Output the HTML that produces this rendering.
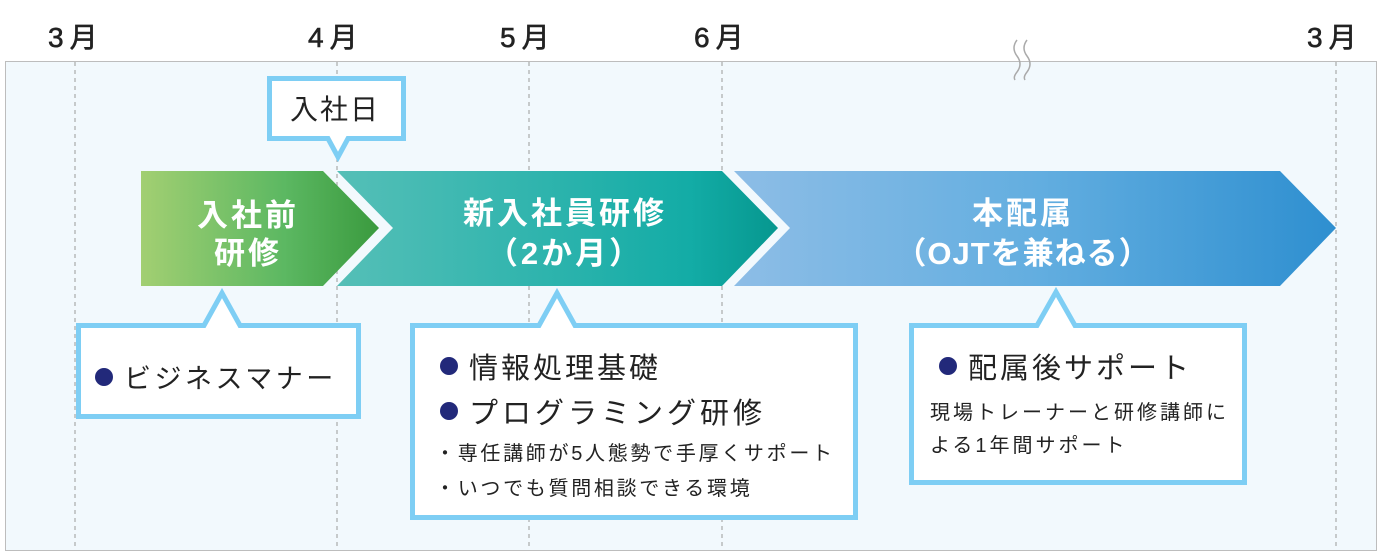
<!DOCTYPE html>
<html><head><meta charset="utf-8"><style>
html,body{margin:0;padding:0;background:#fff;}
svg{display:block;font-family:"Liberation Sans","Noto Sans CJK JP",sans-serif;}
</style></head><body>
<svg width="1383" height="555" viewBox="0 0 1383 555" xmlns="http://www.w3.org/2000/svg">
<defs>
<linearGradient id="g1" x1="0" x2="1"><stop offset="0" stop-color="#a2cf72"/><stop offset="0.6" stop-color="#5cb862"/><stop offset="1" stop-color="#3a9a3e"/></linearGradient>
<linearGradient id="g2" x1="0" x2="1"><stop offset="0" stop-color="#55bfb7"/><stop offset="0.8" stop-color="#13aca6"/><stop offset="1" stop-color="#06978f"/></linearGradient>
<linearGradient id="g3" x1="0" x2="1"><stop offset="0" stop-color="#8dbde6"/><stop offset="0.5" stop-color="#63aee0"/><stop offset="1" stop-color="#2e8fd0"/></linearGradient>
</defs>
<rect x="5.5" y="61.5" width="1371" height="489" fill="#f2f9fd" stroke="#bdbdbd"/>
<g stroke="#aaa" stroke-width="1.2" stroke-dasharray="4,4">
<line x1="75" y1="62" x2="75" y2="550"/><line x1="337" y1="62" x2="337" y2="550"/>
<line x1="529" y1="62" x2="529" y2="550"/><line x1="722" y1="62" x2="722" y2="550"/>
<line x1="1336" y1="62" x2="1336" y2="550"/>
</g>
<path d="M1017 40 q-6 8 0 16 q6 8 0 16 q-4 5 -2 8 M1027 40 q-6 8 0 16 q6 8 0 16 q-4 5 -2 8" fill="none" stroke="#aaa" stroke-width="1.5"/>
<g font-size="28" fill="#222" stroke="#222" stroke-width="0.6" letter-spacing="6">
<text x="48" y="47">3月</text><text x="308" y="47">4月</text><text x="500" y="47">5月</text><text x="694" y="47">6月</text><text x="1307" y="47">3月</text>
</g>
<polygon points="141,171 323,171 379,228 323,286 141,286" fill="url(#g1)"/>
<polygon points="337,171 722,171 778,228 722,286 337,286 393,228" fill="url(#g2)"/>
<polygon points="734,171 1280,171 1336,228 1280,286 734,286 790,228" fill="url(#g3)"/>
<g fill="#fff" font-weight="bold" text-anchor="middle" font-size="31" letter-spacing="3">
<text x="248" y="226">入社前</text><text x="248" y="264">研修</text>
<text x="565" y="224">新入社員研修</text><text x="565" y="264">（2か月）</text>
<text x="1023" y="224">本配属</text><text x="1023" y="264" letter-spacing="1">（OJTを兼ねる）</text>
</g>
<g fill="#fff" stroke="#7ecef4" stroke-width="5" stroke-linejoin="miter">
<path d="M269.5 78.5 H403.5 V138.5 H348 L338 157 L328 138.5 H269.5 Z"/>
<path d="M78.5 325.5 H204 L222 293 L240 325.5 H358.5 V416.5 H78.5 Z"/>
<path d="M412.5 325.5 H539 L557 293 L575 325.5 H855.5 V517.5 H412.5 Z"/>
<path d="M911.5 325.5 H1037 L1056 292 L1075 325.5 H1244.5 V482.5 H911.5 Z"/>
</g>
<text x="290" y="119" font-size="28" fill="#222" letter-spacing="2">入社日</text>
<g fill="#222">
<circle cx="104" cy="377" r="9" fill="#22297a"/><text x="124" y="388" font-size="27" letter-spacing="3.5">ビジネスマナー</text>
<circle cx="449" cy="366" r="9" fill="#22297a"/><text x="469" y="378" font-size="29" letter-spacing="3">情報処理基礎</text>
<circle cx="449" cy="411" r="9" fill="#22297a"/><text x="469" y="423" font-size="29" letter-spacing="4">プログラミング研修</text>
<text x="435" y="460" font-size="20" letter-spacing="2.7">・専任講師が5人態勢で手厚くサポート</text>
<text x="435" y="495" font-size="20" letter-spacing="2.7">・いつでも質問相談できる環境</text>
<circle cx="948" cy="366" r="9" fill="#22297a"/><text x="968" y="378" font-size="29" letter-spacing="3">配属後サポート</text>
<text x="930" y="419" font-size="20" letter-spacing="3">現場トレーナーと研修講師に</text>
<text x="930" y="452" font-size="20" letter-spacing="3">よる1年間サポート</text>
</g>
</svg>
</body></html>
